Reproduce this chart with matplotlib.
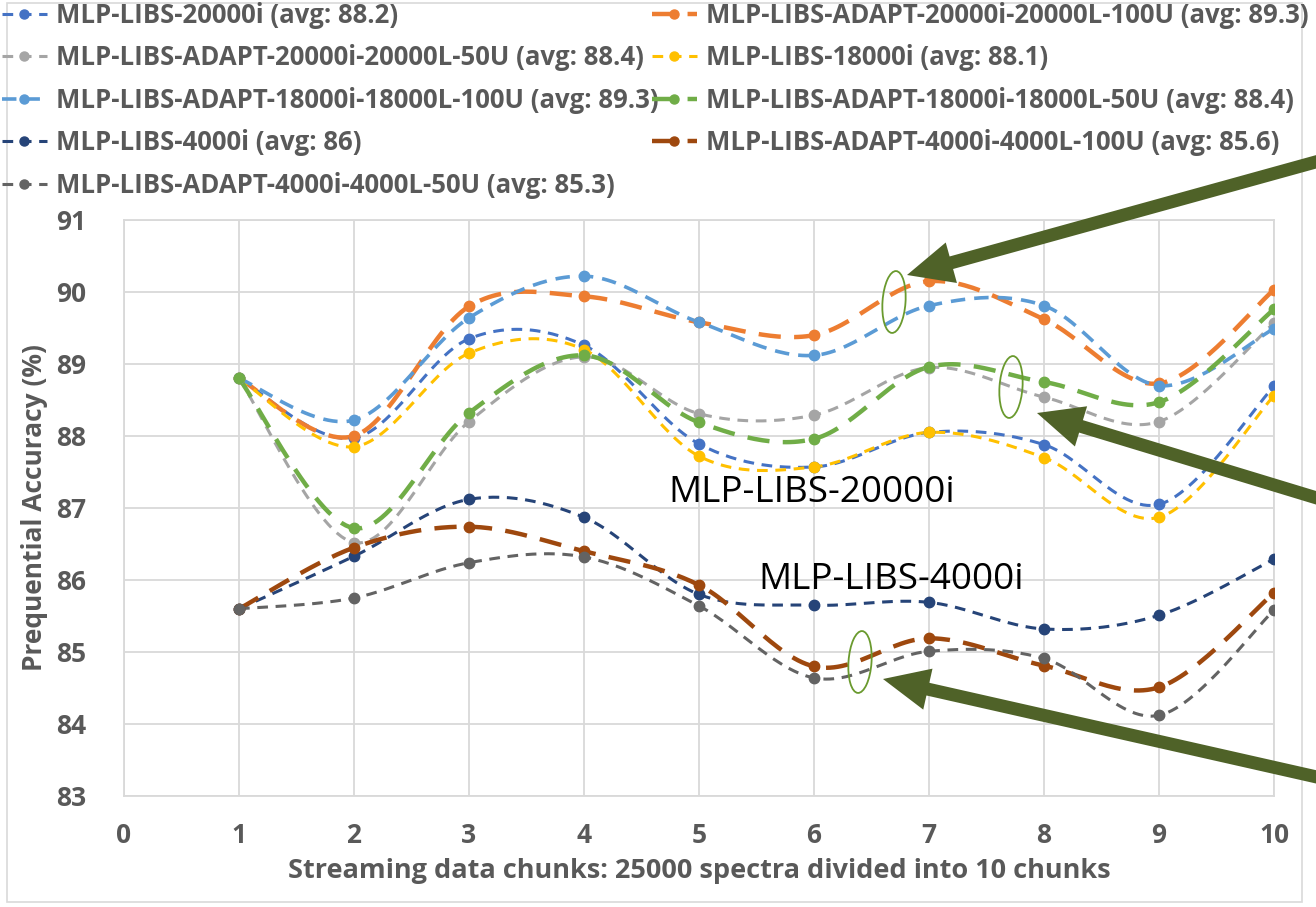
import numpy as np
import matplotlib
matplotlib.use("Agg")
import matplotlib.pyplot as plt
from matplotlib.lines import Line2D
from matplotlib.patches import FancyArrow, Ellipse, Rectangle
from matplotlib.transforms import IdentityTransform

plt.rcParams['font.family'] = ['Open Sans', 'DejaVu Sans']

chunks = [1, 2, 3, 4, 5, 6, 7, 8, 9, 10]

mlp_20000i       = [88.80, 87.97, 89.35, 89.26, 87.89, 87.57, 88.05, 87.88, 87.05, 88.69]
adapt_20000_100u = [88.80, 88.00, 89.80, 89.94, 89.58, 89.40, 90.15, 89.62, 88.73, 90.03]
adapt_20000_50u  = [88.80, 86.52, 88.20, 89.10, 88.31, 88.29, 88.95, 88.54, 88.20, 89.57]
mlp_18000i       = [88.80, 87.85, 89.15, 89.20, 87.72, 87.57, 88.05, 87.70, 86.87, 88.56]
adapt_18000_100u = [88.80, 88.22, 89.64, 90.22, 89.58, 89.12, 89.81, 89.81, 88.70, 89.49]
adapt_18000_50u  = [88.80, 86.72, 88.32, 89.12, 88.19, 87.96, 88.96, 88.75, 88.47, 89.76]
mlp_4000i        = [85.60, 86.33, 87.12, 86.87, 85.80, 85.65, 85.69, 85.32, 85.51, 86.29]
adapt_4000_100u  = [85.60, 86.45, 86.74, 86.40, 85.93, 84.80, 85.19, 84.81, 84.51, 85.82]
adapt_4000_50u   = [85.60, 85.75, 86.24, 86.32, 85.64, 84.64, 85.01, 84.91, 84.12, 85.58]

labels = [
    "MLP-LIBS-20000i (avg: 88.2)",
    "MLP-LIBS-ADAPT-20000i-20000L-100U (avg: 89.3)",
    "MLP-LIBS-ADAPT-20000i-20000L-50U (avg: 88.4)",
    "MLP-LIBS-18000i (avg: 88.1)",
    "MLP-LIBS-ADAPT-18000i-18000L-100U (avg: 89.3)",
    "MLP-LIBS-ADAPT-18000i-18000L-50U (avg: 88.4)",
    "MLP-LIBS-4000i (avg: 86)",
    "MLP-LIBS-ADAPT-4000i-4000L-100U (avg: 85.6)",
    "MLP-LIBS-ADAPT-4000i-4000L-50U (avg: 85.3)",
]
series = [mlp_20000i, adapt_20000_100u, adapt_20000_50u, mlp_18000i, adapt_18000_100u,
          adapt_18000_50u, mlp_4000i, adapt_4000_100u, adapt_4000_50u]
colors = ['#4472C4', '#ED7D31', '#A5A5A5', '#FFC000', '#5B9BD5',
          '#70AD47', '#264478', '#9E480E', '#636363']
thin = dict(lw=2.2, dashes=(3.5, 2.5))
thick = dict(lw=3.2, dashes=(5, 3))
styles = [thin, thick, thin, thin, dict(lw=2.6, dashes=(4, 2.5)), thick, thin, thick, thin]

xticks = list(range(0, 11))
yticks = list(range(83, 92))

W, H = 1316, 907
fig = plt.figure(figsize=(W / 100, H / 100), dpi=100)
ax = fig.add_axes([124 / W, (H - 796) / H, 1150 / W, 576 / H])


def smooth(xs, ys, n=30):
    P = np.column_stack([xs, ys]).astype(float)
    out = []
    for i in range(len(P) - 1):
        p0 = P[i - 1] if i > 0 else P[i]
        p1, p2 = P[i], P[i + 1]
        p3 = P[i + 2] if i + 2 < len(P) else P[i + 1]
        c1 = p1 + (p2 - p0) / 6
        c2 = p2 - (p3 - p1) / 6
        t = np.linspace(0, 1, n)[:, None]
        seg = (1 - t) ** 3 * p1 + 3 * (1 - t) ** 2 * t * c1 + 3 * (1 - t) * t ** 2 * c2 + t ** 3 * p2
        out.append(seg if i == 0 else seg[1:])
    return np.vstack(out)


handles = []
for ys, c, st, lab in zip(series, colors, styles, labels):
    curve = smooth(chunks, ys)
    ax.plot(curve[:, 0], curve[:, 1], color=c, lw=st['lw'], dashes=st['dashes'], zorder=3)
    ax.plot(chunks, ys, linestyle='none', marker='o', ms=7.5, color=c, zorder=4)
    handles.append(Line2D([], [], color=c, lw=st['lw'], dashes=st['dashes'], marker='o', ms=6.5))

ax.set_xlim(0, 10)
ax.set_ylim(83, 91)
ax.set_xticks(xticks)
ax.set_yticks(yticks)
ax.grid(True, color='#D9D9D9', lw=1.3)
ax.set_axisbelow(True)
for s in ax.spines.values():
    s.set_color('#D9D9D9')
    s.set_linewidth(1.3)
ax.tick_params(length=0, colors='#595959', labelsize=19)
for lbl in ax.get_xticklabels() + ax.get_yticklabels():
    lbl.set_fontweight('bold')
ax.tick_params(axis='x', pad=19)
ax.tick_params(axis='y', pad=27)
ax.set_xlabel("Streaming data chunks: 25000 spectra divided into 10 chunks",
              fontsize=19.5, fontweight='bold', color='#595959', labelpad=6)
ax.set_ylabel("Prequential Accuracy (%)", fontsize=19, fontweight='bold', color='#595959', labelpad=6)

# annotations
ax.text(4.73, 87.21, "MLP-LIBS-20000i", fontsize=26.5, color='black', va='center', ha='left')
ax.text(5.52, 86.0, "MLP-LIBS-4000i", fontsize=26.5, color='black', va='center', ha='left')

# legend, two columns
idx1 = [0, 2, 4, 6, 8]
idx2 = [1, 3, 5, 7]
leg_kw = dict(loc='upper left', frameon=False, labelspacing=0.6,
              handlelength=1.75, handletextpad=0.35, borderpad=0, borderaxespad=0,
              labelcolor='#595959', prop={'weight': 'bold', 'size': 18.5})
l1 = fig.legend([handles[i] for i in idx1], [labels[i] for i in idx1],
                bbox_to_anchor=(2 / W, 1 - 2 / H), **leg_kw)
l2 = fig.legend([handles[i] for i in idx2], [labels[i] for i in idx2],
                bbox_to_anchor=(652 / W, 1 - 2 / H), **leg_kw)

# figure border
fig.add_artist(Rectangle((7, H - 902), 1295, 899, transform=IdentityTransform(),
                         fill=False, edgecolor='#D9D9D9', lw=1.2))

# arrows (pixel coordinates, y measured from top)
arrow_color = '#4F6228'
arrows = [((1330, 158), (907, 275)), ((1330, 502), (1037, 413)), ((1330, 780), (883, 679))]
for (x0, y0), (x1, y1) in arrows:
    dx, dy = x1 - x0, -(y1 - y0)
    fig.add_artist(FancyArrow(x0, H - y0, dx, dy, width=13, head_width=42, head_length=46,
                              length_includes_head=True, transform=IdentityTransform(),
                              color=arrow_color, lw=0, zorder=10))

ellipses = [(894, 302, 23, 62), (1011, 387, 23, 62), (860, 662, 23, 62)]
for cx, cy, w, h in ellipses:
    fig.add_artist(Ellipse((cx, H - cy), w, h, angle=-4, transform=IdentityTransform(),
                           fill=False, edgecolor='#6A9A2E', lw=1.3, zorder=10))

fig.savefig("out.png", dpi=100)
